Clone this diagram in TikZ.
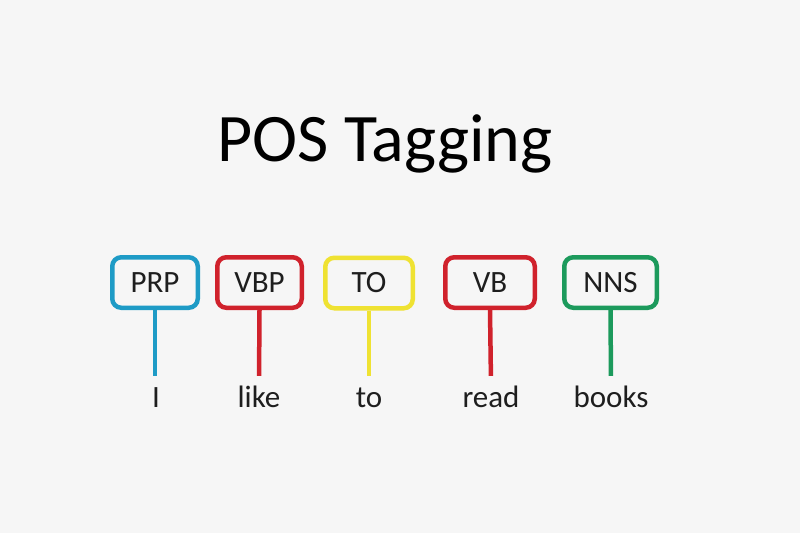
\documentclass[tikz,border=0pt]{standalone}
\usepackage{fontspec}
\setmainfont{Carlito}
\definecolor{bgcol}{HTML}{F6F6F6}
\definecolor{inkcol}{HTML}{1E1E1E}
\definecolor{tagblue}{HTML}{1E9BC6}
\definecolor{tagred}{HTML}{D0222C}
\definecolor{tagyellow}{HTML}{EFE232}
\definecolor{taggreen}{HTML}{1C9A5C}
\begin{document}
\begin{tikzpicture}[x=1pt,y=-1pt,
  tagbox/.style={draw=#1, line width=4.5pt, rounded corners=9pt,
    minimum height=50.5pt, inner sep=0pt, text=inkcol,
    font=\fontsize{31}{31}\selectfont},
  word/.style={anchor=base, inner sep=0pt, text height=24pt, text depth=0pt,
    text=inkcol, font=\fontsize{31}{31}\selectfont},
  stem/.style={draw=#1, line width=4.5pt, shorten >=7pt}]
  % canvas
  \fill[bgcol] (0,0) rectangle (800,533);
  \useasboundingbox (0,0) rectangle (800,533);

  % heading
  \node[anchor=base, inner sep=0pt, text=black,
        font=\fontsize{68}{68}\selectfont] (title) at (385,161) {POS Tagging};

  % tag boxes
  \node[tagbox=tagblue,   minimum width=85.5pt] (prp) at (155,282.5) {PRP};
  \node[tagbox=tagred,    minimum width=84.5pt] (vbp) at (259.5,282.5) {VBP};
  \node[tagbox=tagyellow, minimum width=87.5pt] (to)  at (369,283) {TO};
  \node[tagbox=tagred,    minimum width=89.5pt] (vb)  at (490,282.5) {VB};
  \node[tagbox=taggreen,  minimum width=92.5pt] (nns) at (610.5,282.5) {NNS};

  % words of the sentence
  \node[word] (wI)     at (156,407) {I};
  \node[word] (wlike)  at (259,407) {like};
  \node[word] (wto)    at (369,407) {to};
  \node[word] (wread)  at (491,407) {read};
  \node[word] (wbooks) at (611,407) {books};

  % stems joining each tag to its word
  \draw[stem=tagblue]   (prp.south) -- (prp.south |- wI.north);
  \draw[stem=tagred]    (vbp.south) -- (wlike.north);
  \draw[stem=tagyellow] (to.south)  -- (wto.north);
  \draw[stem=tagred]    (vb.south)  -- (wread.north);
  \draw[stem=taggreen]  (nns.south) -- (wbooks.north);
\end{tikzpicture}
\end{document}
